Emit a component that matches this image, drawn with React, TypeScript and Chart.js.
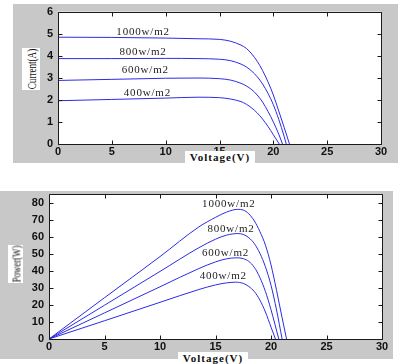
import React, { useEffect, useRef } from "react";
import { Chart, registerables } from "chart.js";

Chart.register(...registerables);

// Irradiance levels, one curve each
const irradianceLabels = ["1000w/m2", "800w/m2", "600w/m2", "400w/m2"];

// I-V characteristics: voltage (V) and current (A)
const ivVolt1000 = [0, 5, 10, 13, 15, 16, 17, 17.5, 18, 18.5, 19, 19.5, 20, 20.5, 21, 21.5];
const ivCurr1000 = [4.84, 4.83, 4.8, 4.77, 4.74, 4.66, 4.48, 4.33, 4.08, 3.75, 3.33, 2.82, 2.22, 1.5, 0.76, 0];
const ivVolt800 = [0, 5, 10, 13, 15, 16, 17, 17.5, 18, 18.5, 19, 19.5, 20, 20.5, 21, 21.2];
const ivCurr800 = [3.87, 3.87, 3.88, 3.87, 3.84, 3.78, 3.62, 3.49, 3.3, 3.05, 2.72, 2.3, 1.78, 1.12, 0.35, 0];
const ivVolt600 = [0, 5, 10, 13, 15, 16, 17, 17.5, 18, 18.5, 19, 19.5, 20, 20.5, 20.85];
const ivCurr600 = [2.88, 2.93, 2.98, 2.99, 2.96, 2.9, 2.75, 2.63, 2.46, 2.22, 1.9, 1.48, 1.0, 0.45, 0];
const ivVolt400 = [0, 5, 10, 13, 15, 16, 17, 17.5, 18, 18.5, 19, 19.5, 20, 20.55];
const ivCurr400 = [1.96, 2.02, 2.08, 2.12, 2.1, 2.04, 1.92, 1.8, 1.63, 1.41, 1.13, 0.8, 0.42, 0];

// P-V characteristics: voltage (V) and power (W)
const pvVolt1000 = [0, 5, 10, 13.5, 15, 16, 17, 17.5, 18, 18.5, 19, 19.5, 20, 20.5, 21, 21.4];
const pvPow1000 = [0, 24.2, 48.3, 65.7, 71.3, 74.4, 76.0, 75.6, 73.4, 69.2, 63.0, 55.0, 43.5, 28.5, 12.5, 0];
const pvVolt800 = [0, 5, 10, 13.5, 15, 16, 17, 17.5, 18, 18.5, 19, 19.5, 20, 20.5, 21];
const pvPow800 = [0, 19.8, 39.6, 53.5, 58.5, 60.9, 61.8, 61.3, 59.4, 55.9, 50.2, 42.3, 31.5, 17.0, 0];
const pvVolt600 = [0, 5, 10, 13.5, 15, 16, 16.9, 17.5, 18, 18.5, 19, 19.5, 20, 20.7];
const pvPow600 = [0, 15.3, 30.6, 41.3, 45.2, 47.0, 47.6, 47.1, 45.5, 42.0, 36.0, 27.8, 17.2, 0];
const pvVolt400 = [0, 5, 10, 13.5, 15, 16, 16.8, 17.5, 18, 18.5, 19, 19.5, 20, 20.4];
const pvPow400 = [0, 10.7, 21.5, 29.0, 31.7, 32.9, 33.3, 32.6, 30.8, 27.8, 22.8, 15.8, 7.0, 0];

// Where each irradiance label sits, in data coordinates
const ivLabelX = [7.9, 7.9, 8.1, 8.3];
const ivLabelY = [5.07, 4.18, 3.33, 2.31];
const pvLabelX = [16.2, 16.4, 15.9, 15.7];
const pvLabelY = [79, 64.4, 50.2, 37.1];

const LINE_COLOR = "rgb(44,44,230)";
const TICK_FONT = { family: "'Liberation Sans', Arial, sans-serif", size: 11, weight: "bold" as const };

const zip = (xs: number[], ys: number[]) => xs.map((x, i) => ({ x, y: ys[i] }));

// White plot area, boxed frame and inward tick marks on all four sides
const framePlugin = {
  id: "matlabFrame",
  beforeDatasetsDraw(chart: any) {
    const { ctx, chartArea: a } = chart;
    ctx.save();
    ctx.fillStyle = "#ffffff";
    ctx.fillRect(a.left, a.top, a.right - a.left, a.bottom - a.top);
    ctx.restore();
  },
  afterDraw(chart: any) {
    const { ctx, chartArea: a, scales } = chart;
    const len = 4;
    const l = Math.round(a.left) + 0.5;
    const r = Math.round(a.right) + 0.5;
    const t = Math.round(a.top) + 0.5;
    const b = Math.round(a.bottom) + 0.5;
    ctx.save();
    ctx.strokeStyle = "#1a1a1a";
    ctx.lineWidth = 1;
    ctx.beginPath();
    for (const tk of scales.x.ticks) {
      const px = Math.round(scales.x.getPixelForValue(tk.value)) + 0.5;
      ctx.moveTo(px, b);
      ctx.lineTo(px, b - len);
      ctx.moveTo(px, t);
      ctx.lineTo(px, t + len);
    }
    for (const tk of scales.y.ticks) {
      const py = Math.round(scales.y.getPixelForValue(tk.value)) + 0.5;
      ctx.moveTo(l, py);
      ctx.lineTo(l + len, py);
      ctx.moveTo(r, py);
      ctx.lineTo(r - len, py);
    }
    ctx.rect(l, t, r - l, b - t);
    ctx.stroke();
    ctx.restore();
  },
};

// Irradiance captions placed next to their curves
const curveLabelPlugin = {
  id: "curveLabels",
  afterDatasetsDraw(chart: any, _args: any, opts: any) {
    const { ctx, scales } = chart;
    ctx.save();
    ctx.fillStyle = "#222";
    ctx.font = "11px 'Liberation Serif', serif";
    (ctx as any).letterSpacing = "0.8px";
    ctx.textAlign = "center";
    ctx.textBaseline = "middle";
    const items = opts.items || [];
    for (const it of items) {
      ctx.fillText(it.text, scales.x.getPixelForValue(it.x), scales.y.getPixelForValue(it.y));
    }
    ctx.restore();
  },
};

function makeConfig(
  series: { x: number; y: number }[][],
  yMax: number,
  yStep: number,
  yWidth: number,
  xHeight: number,
  padding: { left: number; top: number; right: number; bottom: number },
  labelX: number[],
  labelY: number[]
): any {
  return {
    type: "line",
    data: {
      datasets: series.map((d, i) => ({
        label: irradianceLabels[i],
        data: d,
        borderColor: LINE_COLOR,
        borderWidth: 1,
        pointRadius: 0,
        fill: false,
        cubicInterpolationMode: "monotone",
      })),
    },
    options: {
      animation: false,
      responsive: false,
      events: [],
      layout: { padding },
      plugins: {
        legend: { display: false },
        tooltip: { enabled: false },
        curveLabels: {
          items: irradianceLabels.map((text, i) => ({ text, x: labelX[i], y: labelY[i] })),
        },
      },
      scales: {
        x: {
          type: "linear",
          min: 0,
          max: 30,
          grid: { display: false, drawTicks: false },
          border: { display: false },
          ticks: { stepSize: 5, autoSkip: false, maxRotation: 0, padding: 1, color: "#111", font: TICK_FONT },
          afterFit: (s: any) => {
            s.height = xHeight;
          },
        },
        y: {
          type: "linear",
          min: 0,
          max: yMax,
          grid: { display: false, drawTicks: false },
          border: { display: false },
          ticks: { stepSize: yStep, includeBounds: false, padding: 5, color: "#111", font: TICK_FONT },
          afterFit: (s: any) => {
            s.width = yWidth;
          },
        },
      },
    },
    plugins: [framePlugin, curveLabelPlugin],
  };
}

const boxLabel: React.CSSProperties = {
  position: "absolute",
  background: "#ffffff",
  color: "#111",
  overflow: "hidden",
};

function VerticalLabel({ text, left, top, width, height, scale }: any) {
  return (
    <div style={{ ...boxLabel, left, top, width, height }}>
      <div
        style={{
          position: "absolute",
          left: "50%",
          top: "50%",
          whiteSpace: "nowrap",
          font: "13px 'Liberation Serif', serif",
          lineHeight: "13px",
          transform: `translate(-50%, -50%) rotate(-90deg) scaleX(${scale})`,
        }}
      >
        {text}
      </div>
    </div>
  );
}

function HorizontalLabel({ text, left, top, width, height }: any) {
  return (
    <div
      style={{
        ...boxLabel,
        left,
        top,
        width,
        height,
        font: "bold 11px 'Liberation Serif', serif",
        lineHeight: `${height}px`,
        letterSpacing: "1px",
        textAlign: "center",
        whiteSpace: "nowrap",
      }}
    >
      {text}
    </div>
  );
}

export default function App() {
  const ivRef = useRef<HTMLCanvasElement | null>(null);
  const pvRef = useRef<HTMLCanvasElement | null>(null);

  useEffect(() => {
    const ivChart = new Chart(
      ivRef.current as HTMLCanvasElement,
      makeConfig(
        [zip(ivVolt1000, ivCurr1000), zip(ivVolt800, ivCurr800), zip(ivVolt600, ivCurr600), zip(ivVolt400, ivCurr400)],
        6,
        1,
        58,
        36,
        { left: 0, top: 9, right: 17, bottom: 0 },
        ivLabelX,
        ivLabelY
      )
    );
    const pvChart = new Chart(
      pvRef.current as HTMLCanvasElement,
      makeConfig(
        [zip(pvVolt1000, pvPow1000), zip(pvVolt800, pvPow800), zip(pvVolt600, pvPow600), zip(pvVolt400, pvPow400)],
        85,
        10,
        49,
        25,
        { left: 0, top: 14, right: 16, bottom: 0 },
        pvLabelX,
        pvLabelY
      )
    );
    return () => {
      ivChart.destroy();
      pvChart.destroy();
    };
  }, []);

  return (
    <div style={{ position: "absolute", left: 0, top: 0, width: 398, height: 364, background: "#fff", overflow: "hidden" }}>
      <div style={{ position: "absolute", left: 13, top: 4, width: 385, height: 159, background: "#c8c8c8" }} />
      <div style={{ position: "absolute", left: 0, top: 191, width: 393, height: 168, background: "#c8c8c8" }} />
      <canvas ref={ivRef} width={398} height={180} style={{ position: "absolute", left: 0, top: 0, display: "block" }} />
      <canvas ref={pvRef} width={398} height={184} style={{ position: "absolute", left: 0, top: 180, display: "block" }} />
      <HorizontalLabel text="Voltage(V)" left={185} top={151} width={70} height={12} />
      <HorizontalLabel text="Voltage(V)" left={178} top={352} width={70} height={12} />
      <VerticalLabel text="Current(A)" left={22} top={48} width={18} height={42} scale={0.7} />
      <VerticalLabel text="Power(W)" left={8} top={245} width={15} height={38} scale={0.68} />
    </div>
  );
}
